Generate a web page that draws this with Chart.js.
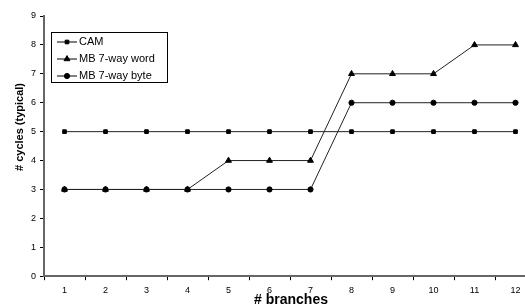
<!DOCTYPE html>
<html>
<head>
<meta charset="utf-8">
<script src="https://cdn.jsdelivr.net/npm/chart.js@4/dist/chart.umd.min.js"></script>
<style>
  html, body { margin: 0; padding: 0; background: #fff; overflow: hidden; }
  #wrap { width: 541px; height: 307px; }
</style>
</head>
<body>
<div id="wrap"><canvas id="chart"></canvas></div>
<script>
// data
const branches = ['1', '2', '3', '4', '5', '6', '7', '8', '9', '10', '11', '12'];
const camCycles = [5, 5, 5, 5, 5, 5, 5, 5, 5, 5, 5, 5];
const wordCycles = [3, 3, 3, 3, 4, 4, 4, 7, 7, 7, 8, 8];
const byteCycles = [3, 3, 3, 3, 3, 3, 3, 6, 6, 6, 6, 6];
const xTitle = '# branches';
const yTitle = '# cycles (typical)';

const FONT = 'Liberation Sans, Arial, sans-serif';

// legend drawn inside the plot, boxed, like the original
const boxLegend = {
    id: 'boxLegend',
    afterDraw(chart) {
        const ctx = chart.ctx;
        const x = 51, y = 32, w = 116, h = 50;
        ctx.save();
        ctx.fillStyle = '#fff';
        ctx.fillRect(x, y, w, h);
        ctx.strokeStyle = '#000';
        ctx.lineWidth = 1;
        ctx.strokeRect(x + 0.5, y + 0.5, w, h);
        ctx.font = '11px ' + FONT;
        ctx.textBaseline = 'middle';
        chart.data.datasets.forEach((ds, i) => {
            const cy = y + 10 + i * 17;
            ctx.strokeStyle = '#000';
            ctx.beginPath();
            ctx.moveTo(x + 6, cy);
            ctx.lineTo(x + 26, cy);
            ctx.stroke();
            ctx.fillStyle = '#000';
            Chart.helpers.drawPoint(ctx, {
                pointStyle: ds.pointStyle,
                radius: ds.pointRadius,
                borderWidth: 1
            }, x + 16, cy);
            ctx.fillStyle = '#000';
            ctx.fillText(ds.label, x + 28, cy);
        });
        ctx.restore();
    }
};

// axis titles placed by hand (the y title sits above the axis centre in the original)
const axisTitles = {
    id: 'axisTitles',
    afterDraw(chart) {
        const ctx = chart.ctx;
        ctx.save();
        ctx.fillStyle = '#000';
        ctx.textAlign = 'center';
        ctx.textBaseline = 'middle';
        ctx.font = 'bold 14px ' + FONT;
        ctx.fillText(xTitle, 291, 300);
        ctx.translate(20, 127);
        ctx.rotate(-Math.PI / 2);
        ctx.font = 'bold 11px ' + FONT;
        ctx.fillText(yTitle, 0, 0);
        ctx.restore();
    }
};

function series(label, data, style, r) {
    return {
        label: label,
        data: data,
        borderColor: '#222',
        backgroundColor: '#000',
        borderWidth: 1,
        pointStyle: style,
        pointRadius: r,
        pointBorderWidth: 1,
        pointBorderColor: '#000',
        pointBackgroundColor: '#000',
        tension: 0
    };
}

new Chart(document.getElementById('chart'), {
    type: 'line',
    data: {
        labels: branches,
        datasets: [
            series('CAM', camCycles, 'rect', 2.6),
            series('MB 7-way word', wordCycles, 'triangle', 3.4),
            series('MB 7-way byte', byteCycles, 'circle', 2.6)
        ]
    },
    options: {
        responsive: true,
        maintainAspectRatio: false,
        animation: false,
        layout: { padding: { top: 16, right: 2, bottom: 6, left: 27 } },
        plugins: {
            legend: { display: false },
            tooltip: { enabled: false }
        },
        scales: {
            x: {
                offset: true,
                grid: {
                    drawOnChartArea: false,
                    offset: true,
                    tickLength: 4,
                    color: '#000'
                },
                border: { color: '#666', width: 2 },
                ticks: { color: '#000', font: { family: FONT, size: 9 }, padding: 5, maxRotation: 0 }
            },
            y: {
                min: 0,
                max: 9,
                ticks: { stepSize: 1, color: '#000', font: { family: FONT, size: 9 }, padding: 4 },
                grid: { drawOnChartArea: false, tickLength: 4, color: '#000' },
                border: { color: '#666', width: 2 }
            }
        }
    },
    plugins: [boxLegend, axisTitles]
});
</script>
</body>
</html>
